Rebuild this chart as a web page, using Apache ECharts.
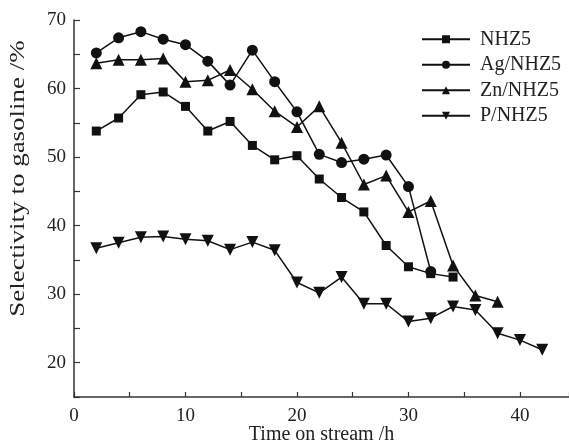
<!DOCTYPE html>
<html>
<head>
<meta charset="utf-8">
<script src="https://cdn.jsdelivr.net/npm/echarts@6/dist/echarts.min.js"></script>
<style>html,body{margin:0;padding:0;background:#fff}#c{width:569px;height:444px}</style>
</head>
<body>
<div id="c"></div>
<script>
var hoursNHZ5 = [2,4,6,8,10,12,14,16,18,20,22,24,26,28,30,32,34];
var valNHZ5   = [53.8,55.7,59.1,59.5,57.4,53.8,55.2,51.7,49.6,50.2,46.8,44.1,42.0,37.1,34.0,33.0,32.5];
var hoursAg   = [2,4,6,8,10,12,14,16,18,20,22,24,26,28,30,32];
var valAg     = [65.2,67.4,68.3,67.2,66.4,64.0,60.5,65.6,61.0,56.6,50.4,49.2,49.7,50.3,45.7,33.3];
var hoursZn   = [2,4,6,8,10,12,14,16,18,20,22,24,26,28,30,32,34,36,38];
var valZn     = [63.7,64.2,64.2,64.4,61.0,61.2,62.7,59.9,56.7,54.4,57.4,52.1,46.0,47.3,42.0,43.6,34.2,29.8,28.9];
var hoursP    = [2,4,6,8,10,12,14,16,18,20,22,24,26,28,30,32,34,36,38,40,42];
var valP      = [36.7,37.5,38.3,38.4,38.0,37.8,36.5,37.6,36.4,31.7,30.2,32.5,28.6,28.6,26.0,26.5,28.2,27.7,24.3,23.3,21.9];
var seriesNames = ['NHZ5','Ag/NHZ5','Zn/NHZ5','P/NHZ5'];
var xTitle = 'Time on stream /h';
var yTitle = 'Selectivity to gasoline /%';

function pairs(xs, ys){ return xs.map(function(x,i){ return [x, ys[i]]; }); }

var font = 'Liberation Serif';
var chart = echarts.init(document.getElementById('c'), null, {renderer:'canvas'});
function mk(name, data, symbol, size, rot){
  return {
    name: name, type: 'line', data: data, symbol: symbol, symbolSize: size,
    symbolRotate: rot || 0,
    lineStyle: {color:'#111', width:1.5}, itemStyle: {color:'#111'},
    animation: false
  };
}
chart.setOption({
  animation: false,
  backgroundColor: '#fff',
  grid: {left:74, right:0, top:20, bottom:47, containLabel:false, outerBoundsMode:'none'},
  legend: {
    orient: 'vertical', left: 421, top: 26.5, padding: 0, itemWidth: 48, itemHeight: 10, itemGap: 0,
    textStyle: {fontFamily: font, fontSize: 20, color:'#222', lineHeight: 25.5, padding:[0,0,0,5]},
    data: seriesNames
  },
  xAxis: {
    type: 'value', min: 0, max: 44.4, interval: 5,
    name: xTitle, nameLocation: 'middle', nameGap: 28, nameMoveOverlap: false,
    nameTextStyle: {fontFamily: font, fontSize: 20, color:'#222'},
    axisLine: {lineStyle: {color:'#333', width:1.5}},
    axisTick: {inside: true, length: 5, lineStyle:{color:'#333', width:1.2}},
    axisLabel: {fontFamily: font, fontSize: 19, color:'#222', margin: 10,
      formatter: function(v){ return (Math.abs(v % 10) < 1e-6) ? String(v) : ''; }},
    splitLine: {show:false}
  },
  yAxis: {
    type: 'value', min: 15, max: 70, interval: 5,
    axisLine: {show:true, lineStyle: {color:'#333', width:1.5}},
    axisTick: {show:true, inside: true, length: 6, lineStyle:{color:'#333', width:1.2}},
    axisLabel: {fontFamily: font, fontSize: 19, color:'#222', margin: 8,
      formatter: function(v){ return (Math.abs(v % 10) < 1e-6) ? String(v) : ''; }},
    splitLine: {show:false}
  },
  graphic: [{
    type: 'text', x: 19, y: 178.5, rotation: Math.PI/2, scaleX: 1.35,
    style: {text: yTitle, fontFamily: font, fontSize: 20, fill:'#222',
      textAlign:'center', textVerticalAlign:'middle'}
  }],
  series: [
    mk(seriesNames[0], pairs(hoursNHZ5, valNHZ5), 'rect', 9),
    mk(seriesNames[1], pairs(hoursAg, valAg), 'circle', 11),
    mk(seriesNames[2], pairs(hoursZn, valZn), 'triangle', 12),
    mk(seriesNames[3], pairs(hoursP, valP), 'triangle', 12, 180)
  ]
});
</script>
</body>
</html>
